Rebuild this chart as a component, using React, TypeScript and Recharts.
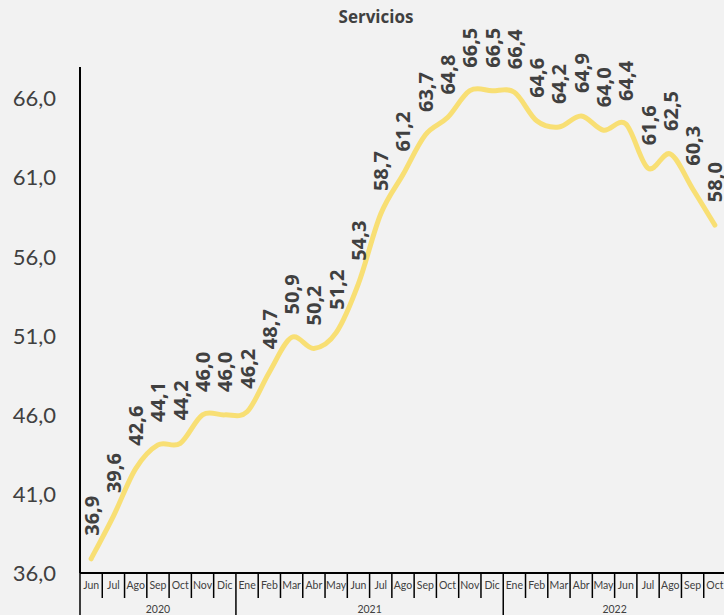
import React from 'react';
import { LineChart, Line, XAxis, YAxis, LabelList } from 'recharts';

const months = ['Jun','Jul','Ago','Sep','Oct','Nov','Dic','Ene','Feb','Mar','Abr','May','Jun','Jul','Ago','Sep','Oct','Nov','Dic','Ene','Feb','Mar','Abr','May','Jun','Jul','Ago','Sep','Oct'];
const values = [36.9,39.6,42.6,44.1,44.2,46.0,46.0,46.2,48.7,50.9,50.2,51.2,54.3,58.7,61.2,63.7,64.8,66.5,66.5,66.4,64.6,64.2,64.9,64.0,64.4,61.6,62.5,60.3,58.0];
const years = ['2020','2021','2022'];
const yearCounts = [7, 12, 10];
const yTicks = [36, 41, 46, 51, 56, 61, 66];

const data = months.map((m, i) => ({ m, v: values[i] }));

const W = 726;
const H = 615;
const LEFT = 80;
const BAND = (W - LEFT) / months.length;
const FONT = 'Lato, "Open Sans", sans-serif';
const BOLD = '"Open Sans", Lato, sans-serif';
const TXT = '#404040';

const yearStarts: number[] = [];
{
  let acc = 0;
  yearCounts.forEach((c) => { yearStarts.push(acc); acc += c; });
}

const fmt = (v: number) => v.toFixed(1).replace('.', ',');

// Excel-like smoothed line (Catmull-Rom as cubic Bezier)
const smoothCurve = (context: any) => {
  let pts: number[][] = [];
  return {
    areaStart() {},
    areaEnd() {},
    lineStart() { pts = []; },
    point(x: number, y: number) { pts.push([+x, +y]); },
    lineEnd() {
      const n = pts.length;
      if (!n) return;
      context.moveTo(pts[0][0], pts[0][1]);
      for (let i = 0; i < n - 1; i++) {
        const p0 = pts[Math.max(i - 1, 0)];
        const p1 = pts[i];
        const p2 = pts[i + 1];
        const p3 = pts[Math.min(i + 2, n - 1)];
        const c1x = p1[0] + (p2[0] - p0[0]) / 6;
        const c1y = p1[1] + (p2[1] - p0[1]) / 6;
        const c2x = p2[0] - (p3[0] - p1[0]) / 6;
        const c2y = p2[1] - (p3[1] - p1[1]) / 6;
        context.bezierCurveTo(c1x, c1y, c2x, c2y, p2[0], p2[1]);
      }
    },
  };
};

const MonthTick = (props: any) => {
  const { x, y, payload } = props;
  const i = payload.index;
  const half = BAND / 2;
  const isYearStart = yearStarts.includes(i);
  const els: any[] = [];
  els.push(<line key="l" x1={x - half} x2={x - half} y1={y} y2={isYearStart ? H : y + 25} stroke="#000" strokeWidth={1.5} />);
  if (i === months.length - 1) {
    els.push(<line key="r" x1={x + half} x2={x + half} y1={y} y2={H} stroke="#000" strokeWidth={1.5} />);
  }
  els.push(<text key="t" x={x} y={y + 16} textAnchor="middle" fontSize={10.5} fill={TXT} fontFamily={FONT}>{payload.value}</text>);
  yearStarts.forEach((s, k) => {
    const c = yearCounts[k];
    const centerIdx = s + (c - 1) / 2;
    if (i === Math.floor(centerIdx)) {
      const cx = x + (centerIdx - i) * BAND;
      els.push(<text key={'y' + k} x={cx} y={y + 40} textAnchor="middle" fontSize={10.5} fill={TXT} fontFamily={FONT}>{years[k]}</text>);
    }
  });
  return <g>{els}</g>;
};

const renderLabel = (props: any) => {
  const { x, y, value } = props;
  const ty = y - 23;
  return (
    <text x={x} y={ty} transform={`rotate(-90 ${x} ${ty})`} textAnchor="start" dominantBaseline="central" fontSize={20} fontWeight={700} fill={TXT} fontFamily={BOLD}>
      {fmt(Number(value))}
    </text>
  );
};

export default function App() {
  return (
    <div style={{ position: 'absolute', left: 0, top: 0, width: 724, height: 615, overflow: 'hidden', background: '#f2f2f2' }}>
      <div style={{ position: 'absolute', left: 0, width: 752, top: 5, textAlign: 'center', fontFamily: BOLD, fontWeight: 700, fontSize: 17, color: TXT }}>Servicios</div>
      <LineChart width={W} height={H} data={data} margin={{ top: 67, right: 0, bottom: 0, left: 0 }}>
        <XAxis dataKey="m" interval={0} height={42} padding={{ left: BAND / 2, right: BAND / 2 }} tickSize={0} tickMargin={0} tickLine={false} axisLine={{ stroke: '#000', strokeWidth: 2 }} tick={<MonthTick />} />
        <YAxis domain={[36, 68]} ticks={yTicks} width={LEFT} tickLine={false} axisLine={{ stroke: '#000', strokeWidth: 2 }} tickFormatter={fmt} tick={{ fontSize: 22, fill: TXT, fontFamily: FONT }} tickMargin={18} />
        <Line type={smoothCurve as any} dataKey="v" stroke="#F8DF74" strokeWidth={5} strokeLinecap="round" dot={false} isAnimationActive={false}>
          <LabelList dataKey="v" content={renderLabel} />
        </Line>
      </LineChart>
    </div>
  );
}
